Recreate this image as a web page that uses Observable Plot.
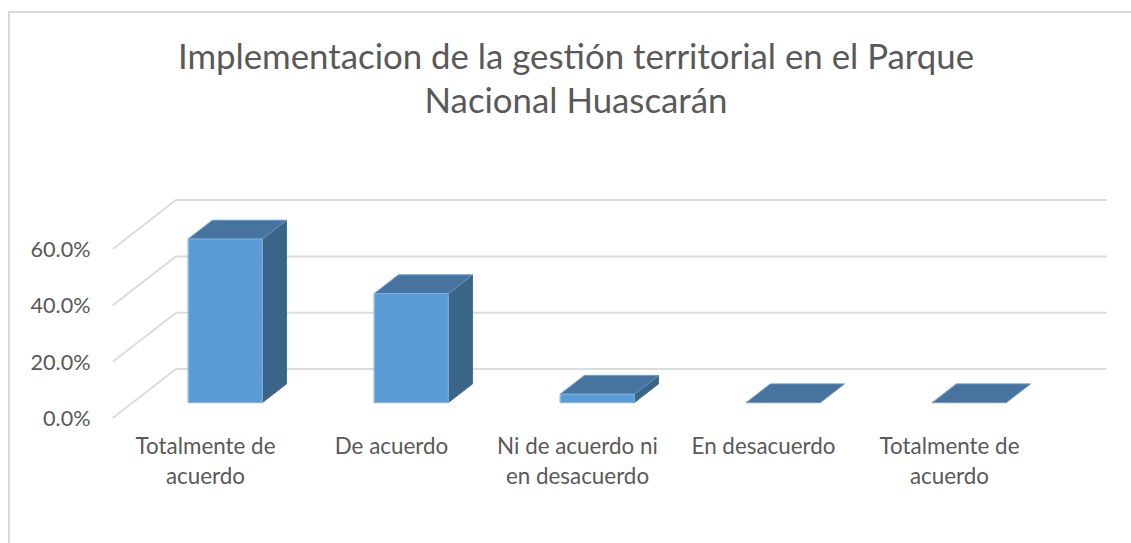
<!DOCTYPE html>
<html lang="es">
<head>
<meta charset="utf-8">
<script src="https://cdn.jsdelivr.net/npm/d3@7"></script>
<script src="https://cdn.jsdelivr.net/npm/@observablehq/plot@0.6"></script>
<style>
  html, body { margin: 0; padding: 0; background: #fff; overflow: hidden; width: 1131px; height: 543px; }
  #frame { position: absolute; left: 8px; top: 11px; width: 1140px; height: 560px; border: 2px solid #d9d9d9; box-sizing: border-box; pointer-events: none; }
  #title { position: absolute; left: 0; top: 34px; width: 1152px; text-align: center; font-family: Lato, sans-serif; font-size: 34.8px; line-height: 44px; color: #595959; font-weight: 400; margin: 0; }
  #chart { position: absolute; left: 0; top: 170px; }
  #chart svg { display: block; }
</style>
</head>
<body>
<div id="frame"></div>
<h1 id="title">Implementacion de la gestión territorial en el Parque<br>Nacional Huascarán</h1>
<div id="chart"></div>
<script>
const categories = ["Totalmente de\nacuerdo", "De acuerdo", "Ni de acuerdo ni\nen desacuerdo", "En desacuerdo", "Totalmente de\nacuerdo"];
const values = [58.1, 38.7, 3.0, 0, 0];
const yTicks = [0, 20, 40, 60];

// oblique projection of depth onto the x (category) and y (percent) data axes
const depthX = 0.336, depthY = 17.2;
const barStart = 0.3, barEnd = 0.697, depthStart = 0.306, depthEnd = 0.694;
const pt = (c, v, d, id) => ({x: c + d * depthX, y: v + d * depthY, id});

const grid = yTicks.flatMap(v => [pt(0, v, 0, v), pt(0, v, 1, v), pt(categories.length, v, 1, v)]);

const front = [], side = [], top_ = [];
values.forEach((v, i) => {
  const a = i + barStart, b = i + barEnd, d0 = depthStart, d1 = depthEnd;
  if (v > 0) {
    front.push(pt(a, 0, d0, i), pt(b, 0, d0, i), pt(b, v, d0, i), pt(a, v, d0, i));
    side.push(pt(b, 0, d0, i), pt(b, 0, d1, i), pt(b, v, d1, i), pt(b, v, d0, i));
  }
  top_.push(pt(a, v, d0, i), pt(b, v, d0, i), pt(b, v, d1, i), pt(a, v, d1, i));
});

const face = (data, fill, stroke) => Plot.line(data, {x: "x", y: "y", z: "id", fill, stroke, strokeWidth: 1, curve: "linear-closed"});

const plot = Plot.plot({
  width: 1131, height: 373,
  marginLeft: 113, marginRight: 88, marginTop: 78, marginBottom: 126,
  style: {background: "transparent", fontFamily: "Lato, sans-serif", overflow: "visible"},
  x: {domain: [0, categories.length]},
  y: {domain: [0, 60]},
  marks: [
    Plot.line(grid, {x: "x", y: "y", z: "id", stroke: "#dcdcdc", strokeWidth: 2}),
    Plot.axisY({ticks: yTicks, tickSize: 0, tickPadding: 23, dy: 1.5, label: null, fontSize: 21.6, fill: "#595959", tickFormat: d => d.toFixed(1) + "%"}),
    Plot.axisX({ticks: categories.map((_, i) => i + 0.5), tickSize: 0, tickPadding: 15, dx: -1, label: null, fontSize: 22.4, fill: "#595959", lineHeight: 1.35, lineWidth: 30, tickFormat: d => categories[Math.floor(d)]}),
    face(side, "#3b6489", "#44719a"),
    face(top_, "#46749f", "#6f97bd"),
    face(front, "#5b9bd5", "#7fb2e0")
  ]
});
document.getElementById("chart").appendChild(plot);
</script>
</body>
</html>
